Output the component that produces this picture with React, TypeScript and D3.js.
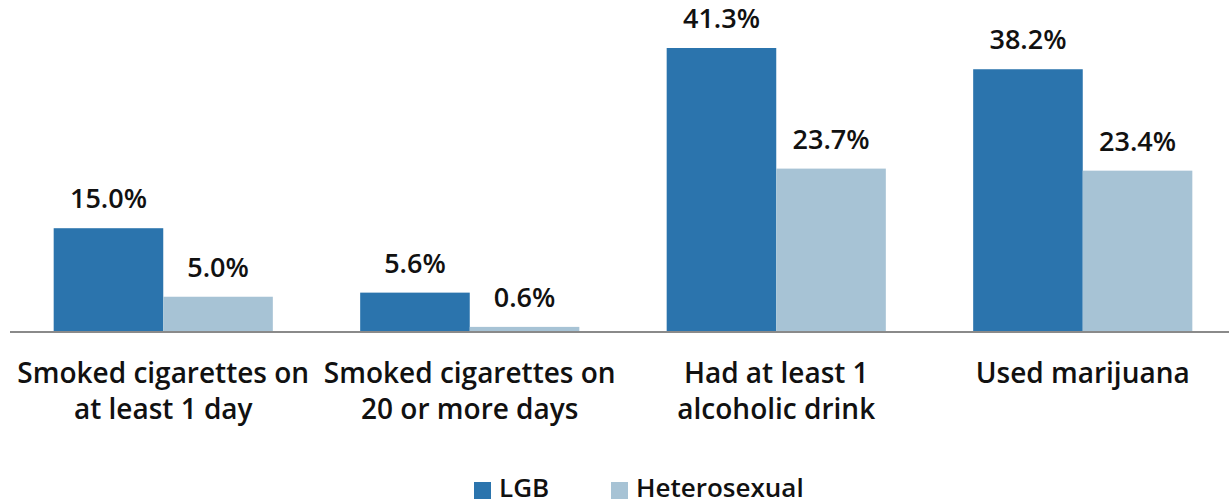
import React from "react";
import * as d3 from "d3";

const categories = [
  ["Smoked cigarettes on", "at least 1 day"],
  ["Smoked cigarettes on", "20 or more days"],
  ["Had at least 1", "alcoholic drink"],
  ["Used marijuana"],
];
const seriesNames = ["LGB", "Heterosexual"];
const lgbValues = [15.0, 5.6, 41.3, 38.2];
const heteroValues = [5.0, 0.6, 23.7, 23.4];
const colors = ["#2b74ad", "#a7c3d5"];

const W = 1229;
const H = 504;

export default function App() {
  const keys = categories.map((c) => c.join(" "));
  const x0 = d3.scaleBand<string>().domain(keys).range([10, 1236]).padding(0);
  const bw = x0.bandwidth();
  const x1 = d3
    .scaleBand<string>()
    .domain(seriesNames)
    .range([bw * 0.1425, bw * 0.8575])
    .padding(0);
  const y = d3.scaleLinear().domain([0, 41.3]).range([331, 48]);
  const series = [lgbValues, heteroValues];
  const font = "'Open Sans', sans-serif";

  return (
    <div style={{ position: "absolute", left: 0, top: 0 }}>
      <svg width={W} height={H} style={{ display: "block" }}>
        <rect width={W} height={H} fill="#fff" />
        {keys.map((k, i) => (
          <g key={k} transform={`translate(${x0(k)},0)`}>
            {seriesNames.map((s, j) => {
              const v = series[j][i];
              const bx = x1(s)!;
              return (
                <g key={s}>
                  <rect
                    x={bx}
                    y={y(v)}
                    width={x1.bandwidth()}
                    height={y(0) - y(v)}
                    fill={colors[j]}
                  />
                  <text
                    x={bx + x1.bandwidth() / 2}
                    y={y(v) - 20}
                    textAnchor="middle"
                    fontFamily={font}
                    fontWeight={600}
                    fontSize={27}
                    fill="#111"
                  >
                    {v.toFixed(1)}%
                  </text>
                </g>
              );
            })}
            {categories[i].map((line, li) => (
              <text
                key={li}
                x={bw / 2}
                y={383 + li * 35.5}
                textAnchor="middle"
                fontFamily={font}
                fontWeight={600}
                fontSize={28}
                fill="#111"
              >
                {line}
              </text>
            ))}
          </g>
        ))}
        <line x1={10} x2={1229} y1={332} y2={332} stroke="#8a8a8a" strokeWidth={2} />
        {seriesNames.map((s, j) => {
          const lx = [474, 611][j];
          return (
            <g key={s}>
              <rect x={lx} y={482} width={17} height={17} fill={colors[j]} />
              <text
                x={lx + 25}
                y={497}
                fontFamily={font}
                fontWeight={600}
                fontSize={26}
                fill="#111"
              >
                {s}
              </text>
            </g>
          );
        })}
      </svg>
    </div>
  );
}
